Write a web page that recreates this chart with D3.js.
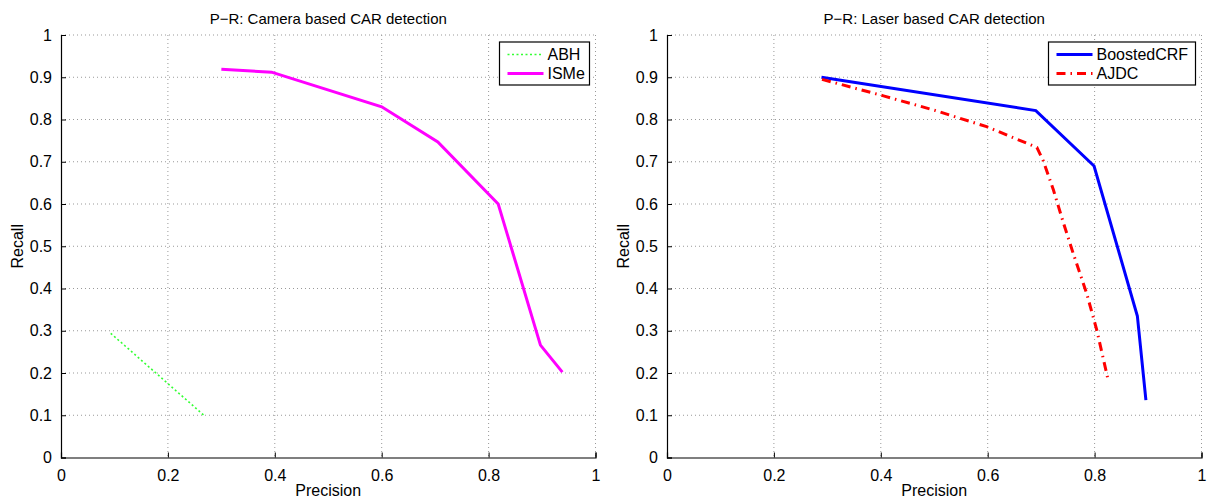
<!DOCTYPE html>
<html lang="en">
  <head>
    <meta charset="utf-8" />
    <title>P-R curves</title>
    <script src="https://cdn.jsdelivr.net/npm/d3@7"></script>
    <style>
      body { margin: 0; background: #fff; }
      text { font-family: "Liberation Sans", Arial, sans-serif; fill: #000; }
    </style>
  </head>
  <body>
    <script>
      // values
      var xTicks = [0, 0.2, 0.4, 0.6, 0.8, 1]
      var yTicks = [0, 0.1, 0.2, 0.3, 0.4, 0.5, 0.6, 0.7, 0.8, 0.9, 1]

      var abhPrec   = [0.093, 0.270]
      var abhRecall = [0.294, 0.097]

      var ismePrec   = [0.300, 0.394, 0.600, 0.705, 0.818, 0.897, 0.938]
      var ismeRecall = [0.919, 0.912, 0.830, 0.747, 0.600, 0.266, 0.202]

      var crfPrec   = [0.289, 0.690, 0.799, 0.880, 0.896]
      var crfRecall = [0.900, 0.821, 0.690, 0.335, 0.136]

      var ajdcPrec   = [0.290, 0.405, 0.500, 0.598, 0.692, 0.704, 0.723, 0.742, 0.760, 0.785, 0.804, 0.825]
      var ajdcRecall = [0.895, 0.856, 0.822, 0.783, 0.734, 0.702, 0.633, 0.554, 0.483, 0.389, 0.302, 0.185]

      var zip = function(xs, ys) { return xs.map(function(x, i) { return [x, ys[i]] }) }

      var panels = [
        { title: "P\u2212R: Camera based CAR detection", left: 61, legendW: 90,
          series: [
            { name: "ABH", pts: zip(abhPrec, abhRecall), color: "#33ff33", width: 1.6, dash: "2,2.5" },
            { name: "ISMe", pts: zip(ismePrec, ismeRecall), color: "#ff00ff", width: 3, dash: null }
          ] },
        { title: "P\u2212R: Laser based CAR detection", left: 667, legendW: 147,
          series: [
            { name: "BoostedCRF", pts: zip(crfPrec, crfRecall), color: "#0000ff", width: 3, dash: null },
            { name: "AJDC", pts: zip(ajdcPrec, ajdcRecall), color: "#ff0000", width: 3, dash: "9,5,1.5,5" }
          ] }
      ]

      var plotW = 534.5
      var plotTop = 35
      var plotH = 422.5

      var svg = d3.select("body")
                  .append("svg")
                  .attr("width", 1210)
                  .attr("height", 499)

      panels.forEach(function(p) {
        var g = svg.append("g")
                   .attr("transform", "translate(" + p.left + "," + plotTop + ")")

        var xScale = d3.scaleLinear().domain([0, 1]).range([0, plotW])
        var yScale = d3.scaleLinear().domain([0, 1]).range([plotH, 0])

        // dotted grid
        g.selectAll(".vgrid")
         .data(xTicks.slice(1))
         .enter()
         .append("line")
           .attr("x1", function(d) { return xScale(d) })
           .attr("x2", function(d) { return xScale(d) })
           .attr("y1", 0)
           .attr("y2", plotH)
           .attr("stroke", "#999")
           .attr("stroke-width", 1)
           .attr("stroke-dasharray", "1,3")

        g.selectAll(".hgrid")
         .data(yTicks.slice(1))
         .enter()
         .append("line")
           .attr("x1", 0)
           .attr("x2", plotW)
           .attr("y1", function(d) { return yScale(d) })
           .attr("y2", function(d) { return yScale(d) })
           .attr("stroke", "#999")
           .attr("stroke-width", 1)
           .attr("stroke-dasharray", "1,3")

        // axes, MATLAB style ticks pointing in
        var xAxis = g.append("g")
          .attr("transform", "translate(0," + plotH + ")")
          .call(d3.axisBottom(xScale).tickValues(xTicks).tickSize(-5).tickPadding(12)
                  .tickFormat(function(d) { return d3.format("")(d) }))
        var yAxis = g.append("g")
          .call(d3.axisLeft(yScale).tickValues(yTicks).tickSize(-5).tickPadding(9)
                  .tickFormat(function(d) { return d3.format("")(d) }))

        ;[xAxis, yAxis].forEach(function(a) {
          a.select(".domain").attr("stroke", "#000").attr("stroke-width", 1.2)
          a.selectAll(".tick line").attr("stroke", "#000")
          a.selectAll(".tick text")
           .style("font-size", "16px")
           .style("font-family", "'Liberation Sans', Arial, sans-serif")
        })

        // curves
        var line = d3.line()
                     .x(function(d) { return xScale(d[0]) })
                     .y(function(d) { return yScale(d[1]) })

        p.series.forEach(function(s) {
          g.append("path")
           .datum(s.pts)
           .attr("d", line)
           .attr("fill", "none")
           .attr("stroke", s.color)
           .attr("stroke-width", s.width)
           .attr("stroke-dasharray", s.dash)
           .attr("stroke-linejoin", "miter")
        })

        // title and labels
        g.append("text")
         .attr("x", plotW / 2)
         .attr("y", -11)
         .attr("text-anchor", "middle")
         .style("font-size", "15px")
         .text(p.title)

        g.append("text")
         .attr("x", plotW / 2)
         .attr("y", plotH + 38)
         .attr("text-anchor", "middle")
         .style("font-size", "16px")
         .text("Precision")

        g.append("text")
         .attr("transform", "translate(-38," + (plotH / 2) + ") rotate(-90)")
         .attr("text-anchor", "middle")
         .style("font-size", "16px")
         .text("Recall")

        // legend
        var lx = plotW - 6 - p.legendW
        var leg = g.append("g").attr("transform", "translate(" + lx + ",7)")
        leg.append("rect")
           .attr("width", p.legendW)
           .attr("height", 43)
           .attr("fill", "#fff")
           .attr("stroke", "#000")
           .attr("stroke-width", 1.2)
        p.series.forEach(function(s, i) {
          var yy = 12.5 + i * 19
          leg.append("line")
             .attr("x1", 8)
             .attr("x2", 44)
             .attr("y1", yy)
             .attr("y2", yy)
             .attr("stroke", s.color)
             .attr("stroke-width", s.width)
             .attr("stroke-dasharray", s.dash)
          leg.append("text")
             .attr("x", 48)
             .attr("y", yy + 5.5)
             .style("font-size", "16px")
             .text(s.name)
        })
      })
    </script>
  </body>
</html>
